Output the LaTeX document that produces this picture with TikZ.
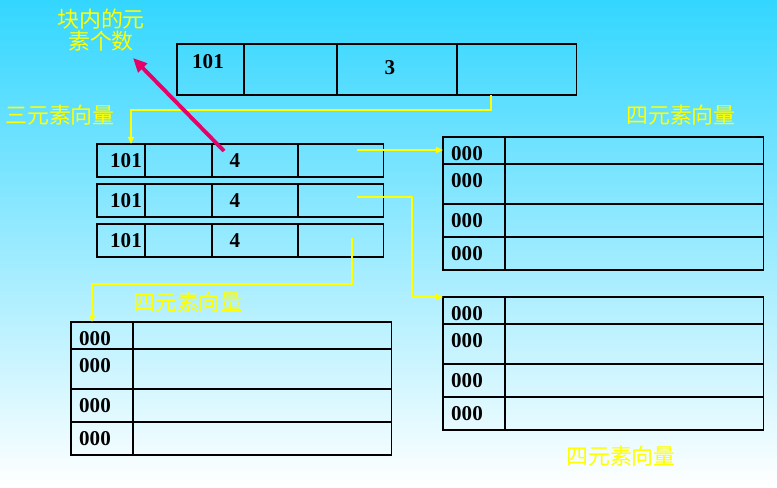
\documentclass[tikz,border=0pt]{standalone}
\usepackage{fontspec}
\setmainfont{Liberation Serif}
\newfontfamily\cjk{Noto Sans CJK SC}
\usetikzlibrary{arrows.meta}
\definecolor{skytop}{RGB}{51,214,255}
\definecolor{ptrred}{RGB}{232,0,104}
\definecolor{lineyel}{RGB}{255,255,0}

\begin{document}
\begin{tikzpicture}[x=0.02cm, y=-0.02cm,
    vbox/.style={draw, line width=0.6pt, inner sep=0pt, outer sep=0pt, anchor=north west},
    num/.style={font=\fontsize{12}{13}\selectfont\bfseries, inner sep=0pt},
    lbl/.style={text=lineyel, font=\cjk\fontsize{12.5}{12.5}\selectfont, inner sep=0pt, align=center},
    link/.style={draw=lineyel, line width=0.6pt, -{Triangle[length=4pt, width=3.5pt]}}]
          % Background
          \shade[top color=skytop, bottom color=white] (0,0) rectangle (777,487);
          \useasboundingbox (0,0) rectangle (777,487);
          % Block header
          \node[vbox, minimum width=8cm, minimum height=1.02cm] (blk) at (177,44) {};
          \foreach \x in {244,337,457}
            \draw[line width=0.6pt] (\x,44) -- (\x,95);
          \node[num] (blkid) at (208,62) {101};
          \node[num] (blkcnt) at (390,68) {3};
          % Labels
          \node[lbl] (cntlbl) at (101,30) {块内的元\\素个数};
          \node[lbl] (trilbl) at (60,115) {三元素向量};
          \node[lbl] (qalbl) at (681,115) {四元素向量};
          \node[lbl] (qblbl) at (621,456) {四元素向量};
          \node[lbl] (qclbl) at (188,302) {四元素向量};
          % Triple vectors
          \foreach \n/\y in {1/144,2/184,3/224}{
            \node[vbox, minimum width=5.74cm, minimum height=0.66cm] (tri\n) at (97,\y) {};
            \foreach \x in {145,212,298}
              \draw[line width=0.6pt] (\x,\y) -- (\x,\y+33);
            \node[num] (triid\n) at (126,\y+17) {101};
            \node[num] (tricnt\n) at (235,\y+17) {4};
          }
          % Quad vectors
          \foreach \g/\gx/\gy in {qa/443/137, qb/443/297, qc/71/322}{
            \foreach \r/\dy/\h in {1/0/27, 2/27/40, 3/67/33, 4/100/33}{
              \node[vbox, minimum width=6.42cm, minimum height=\h*0.02cm] (\g\r) at (\gx,\gy+\dy) {};
              \node[num] (\g id\r) at (\gx+24,\gy+\dy+17) {000};
            }
            \draw[line width=0.6pt] (\gx+62,\gy) -- (\gx+62,\gy+133);
          }
          % Pointers
          \coordinate (blkptr) at (491,95);
          \coordinate (triptr1) at (357,150);
          \coordinate (triptr2) at (357,197);
          \coordinate (triptr3) at (352,238);
          \coordinate (cntptr) at (224,151);
          \coordinate (cnttip) at (133,58);
          \draw[link] (blkptr) -- (491,110) -| (tri1.north west -| 131,0);
          \draw[link, line width=1.2pt] (triptr1) -- (triptr1 -| qa1.west);
          \draw[link] (triptr2) -- (412,197) |- (qb1.north west);
          \draw[link] (triptr3) -- (352,284) -| (qc1.north west -| 92,0);
          \draw[draw=ptrred, line width=2.2pt, -{Triangle[length=8pt, width=7pt]}] (cntptr) -- (cnttip);
        \end{tikzpicture}
\end{document}
